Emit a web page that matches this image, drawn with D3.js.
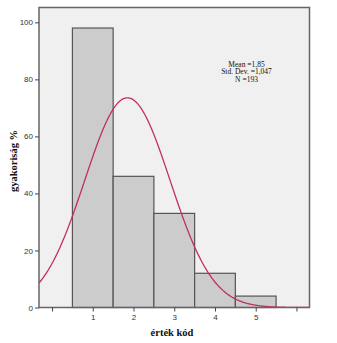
<!DOCTYPE html>
<html>
<head>
<meta charset="utf-8">
<script src="https://cdn.jsdelivr.net/npm/d3@7"></script>
<style>
  html, body { margin: 0; padding: 0; background: #ffffff; }
  svg { display: block; }
</style>
</head>
<body>
<svg id="chart" width="337" height="343"></svg>
<script>
// Histogram of code values with fitted normal curve
const categories = [1, 2, 3, 4, 5];
const counts = [98, 46, 33, 12, 4];
const xTicks = [0, 1, 2, 3, 4, 5, 6];
const xTickLabels = ["", "1", "2", "3", "4", "5", ""];
const yTicks = [0, 20, 40, 60, 80, 100];
const stats = { mean: 1.85, sd: 1.047, n: 193 };
const statLines = ["Mean =1,85", "Std. Dev. =1,047", "N =193"];

const svg = d3.select("#chart");
const plot = { left: 39, top: 7.5, right: 309.5, bottom: 307.5 };

const x = d3.scaleLinear().domain([-0.32, 6.32]).range([plot.left, plot.right]);
const y = d3.scaleLinear().domain([0, 105.2]).range([plot.bottom, plot.top]);

// plot background
svg.append("rect")
  .attr("x", plot.left).attr("y", plot.top)
  .attr("width", plot.right - plot.left).attr("height", plot.bottom - plot.top)
  .attr("fill", "#f0f0f0");

svg.append("clipPath").attr("id", "clip")
  .append("rect")
  .attr("x", plot.left).attr("y", plot.top)
  .attr("width", plot.right - plot.left).attr("height", plot.bottom - plot.top);

// bars
svg.append("g").selectAll("rect")
  .data(categories)
  .join("rect")
  .attr("x", d => x(d - 0.5))
  .attr("width", d => x(d + 0.5) - x(d - 0.5))
  .attr("y", (d, i) => y(counts[i]))
  .attr("height", (d, i) => y(0) - y(counts[i]))
  .attr("fill", "#cccccc")
  .attr("stroke", "#555555")
  .attr("stroke-width", 1.2);

// normal curve from mean, sd and N (bin width 1)
const pdf = v => stats.n / (stats.sd * Math.sqrt(2 * Math.PI)) *
  Math.exp(-0.5 * Math.pow((v - stats.mean) / stats.sd, 2));
const xs = d3.range(-0.32, 6.33, 0.02);
svg.append("path")
  .datum(xs)
  .attr("clip-path", "url(#clip)")
  .attr("fill", "none")
  .attr("stroke", "#c0305a")
  .attr("stroke-width", 1.3)
  .attr("d", d3.line().x(d => x(d)).y(d => y(pdf(d))));

// plot frame
svg.append("rect")
  .attr("x", plot.left).attr("y", plot.top)
  .attr("width", plot.right - plot.left).attr("height", plot.bottom - plot.top)
  .attr("fill", "none")
  .attr("stroke", "#666666")
  .attr("stroke-width", 1.5);

// axes
const yAxis = svg.append("g")
  .attr("transform", `translate(${plot.left},0)`)
  .call(d3.axisLeft(y).tickValues(yTicks).tickSize(4).tickPadding(2));
const xAxis = svg.append("g")
  .attr("transform", `translate(0,${plot.bottom})`)
  .call(d3.axisBottom(x).tickValues(xTicks).tickSize(4).tickPadding(3)
    .tickFormat((d, i) => xTickLabels[i]));
[yAxis, xAxis].forEach(g => {
  g.select(".domain").remove();
  g.selectAll("line").attr("stroke", "#444444");
  g.selectAll("text")
    .attr("fill", "#333333")
    .style("font-family", "Arial, 'Liberation Sans', sans-serif")
    .style("font-size", "8px");
});

// statistics box
svg.append("text")
  .attr("text-anchor", "middle")
  .style("font-family", "'Times New Roman', 'Liberation Serif', serif")
  .style("font-size", "7.5px")
  .attr("fill", "#111111")
  .selectAll("tspan")
  .data(statLines)
  .join("tspan")
  .attr("x", 246.5)
  .attr("y", (d, i) => 66.5 + i * 7.5)
  .text(d => d);

// axis titles
svg.append("text")
  .attr("x", 172).attr("y", 336)
  .attr("text-anchor", "middle")
  .style("font-family", "'Times New Roman', 'Liberation Serif', serif")
  .style("font-size", "10.5px")
  .style("font-weight", "bold")
  .attr("fill", "#111111")
  .text("érték kód");

svg.append("text")
  .attr("transform", "translate(17,161) rotate(-90)")
  .attr("text-anchor", "middle")
  .style("font-family", "'Times New Roman', 'Liberation Serif', serif")
  .style("font-size", "10.5px")
  .style("font-weight", "bold")
  .attr("fill", "#111111")
  .text("gyakoriság %");
</script>
</body>
</html>
